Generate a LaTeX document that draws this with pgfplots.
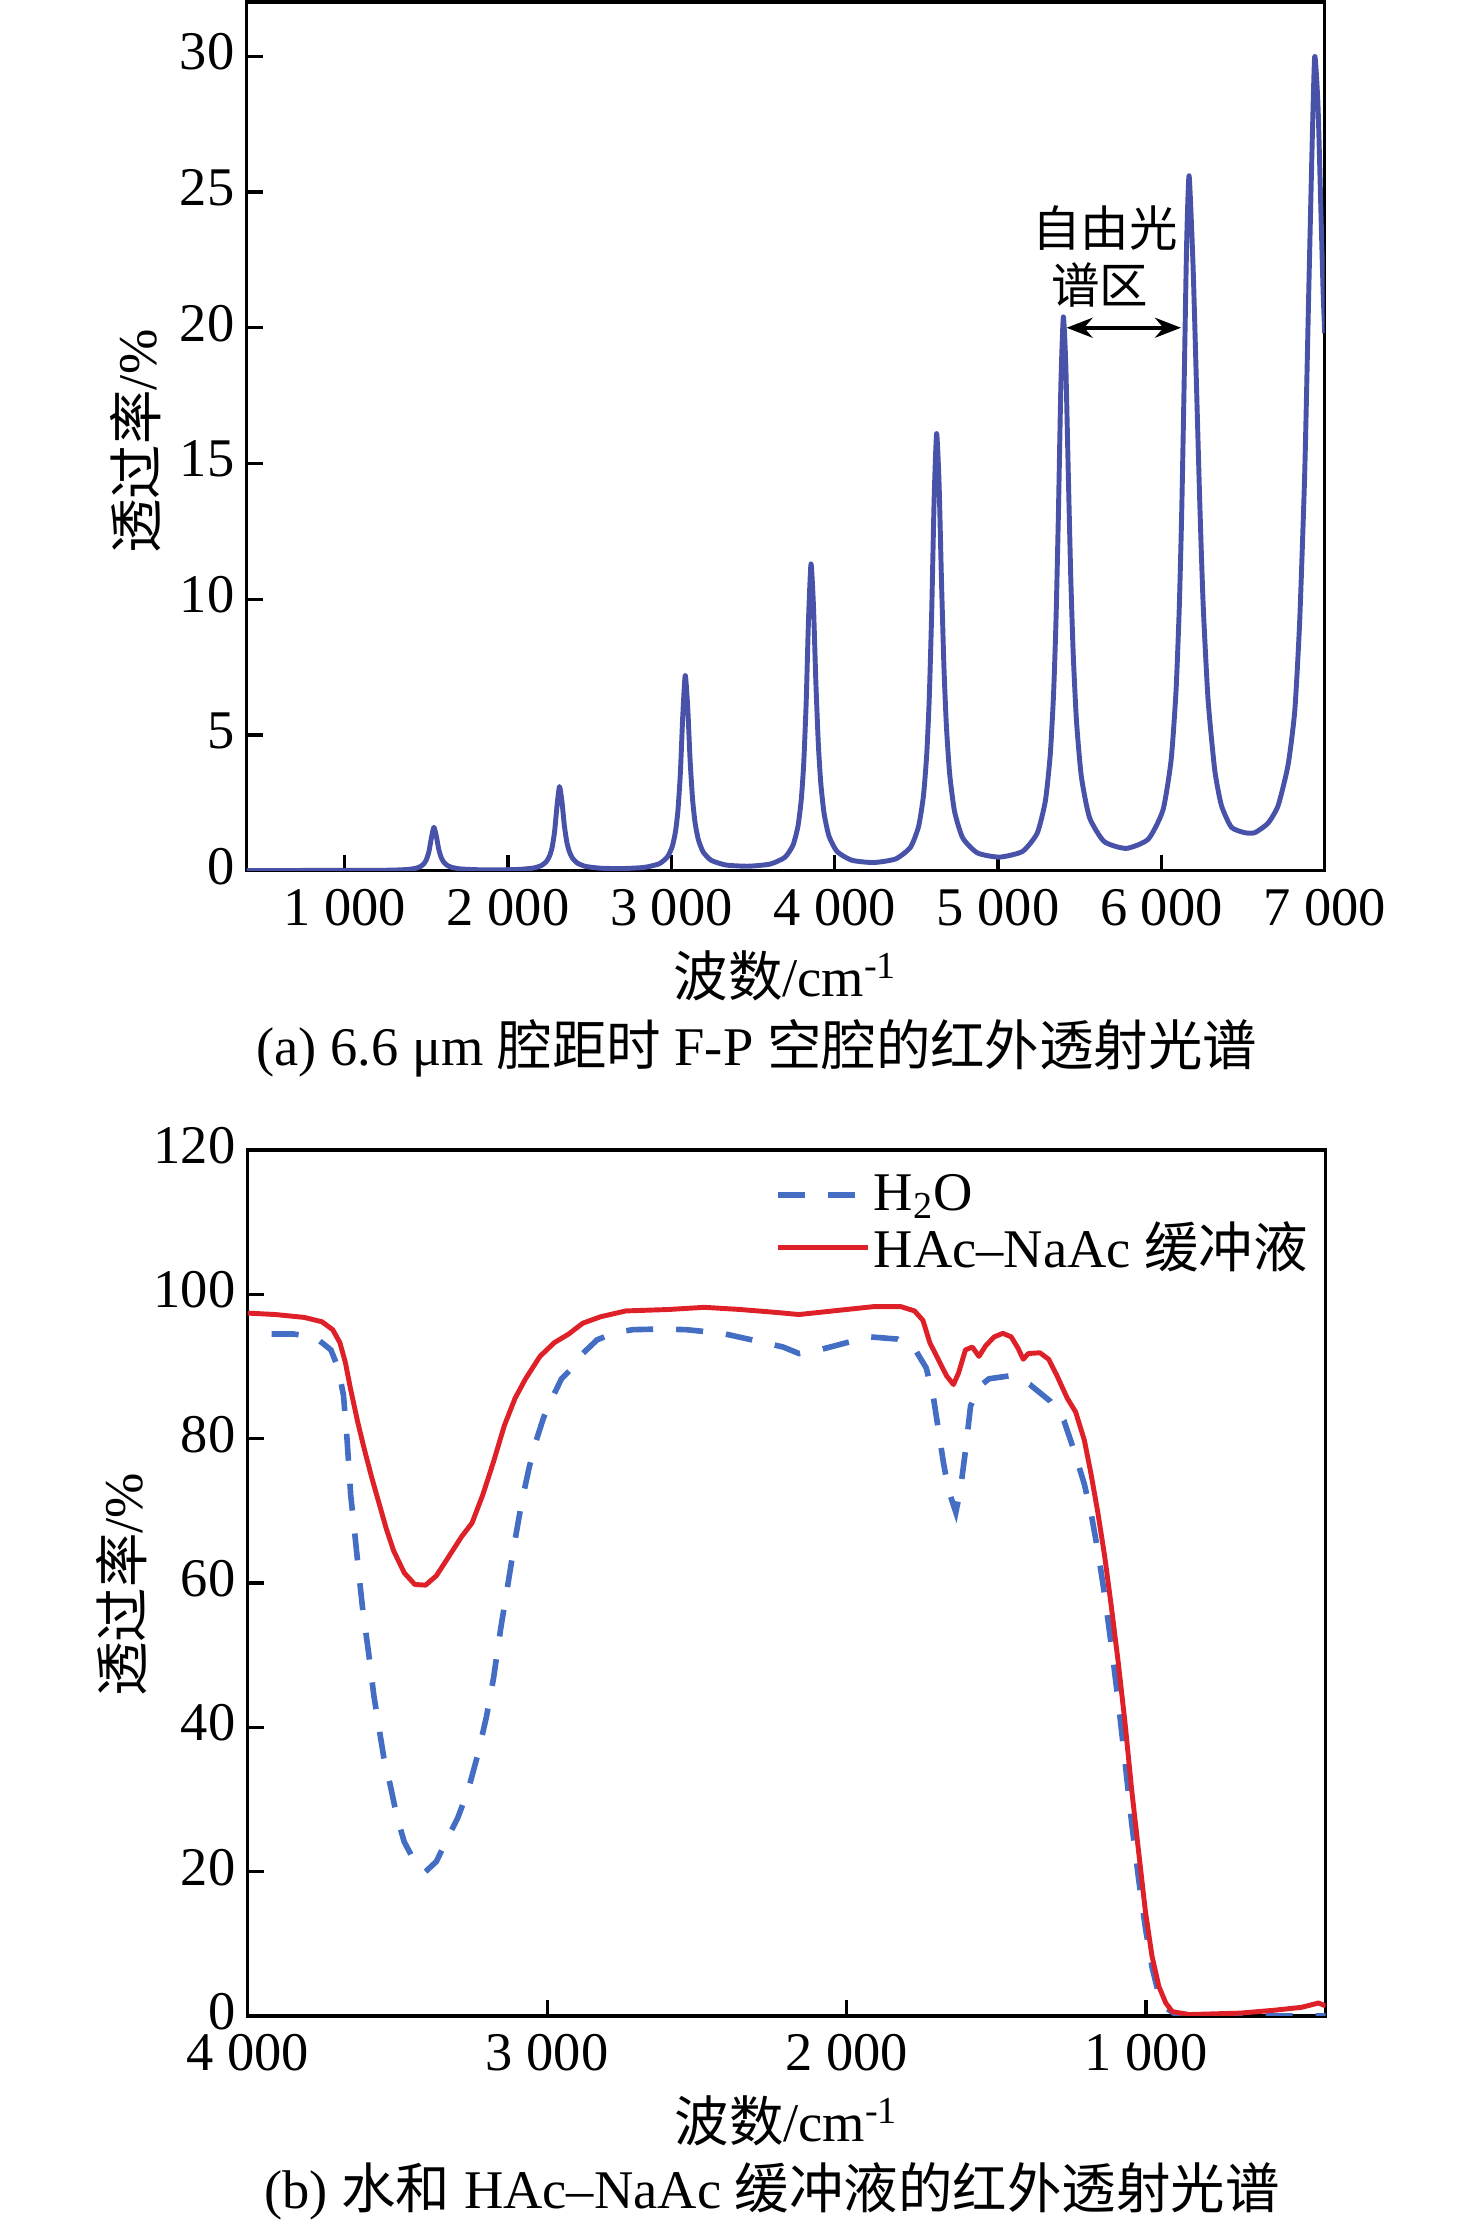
\documentclass[border=0pt]{standalone}
\usepackage{fontspec}
\setmainfont{Liberation Serif}
\newfontfamily\cjk{Noto Sans CJK SC}
\usepackage{pgfplots}
\usepackage{pgfplotstable}
\pgfplotsset{compat=1.18}
\usetikzlibrary{arrows.meta}
\newcommand\fsz{\fontsize{15.5}{18.6}\selectfont}
\definecolor{topblue}{RGB}{72,82,168}
\definecolor{dblue}{RGB}{68,110,196}
\definecolor{dred}{RGB}{222,32,40}

\pgfplotstableread{
x y
400 0.00
800 0.01
1161 0.013
1296 0.021
1386 0.045
1436 0.090
1466 0.161
1486 0.266
1501 0.419
1516 0.710
1531 1.215
1546 1.600
1561 1.272
1576 0.783
1591 0.482
1606 0.318
1626 0.202
1656 0.120
1706 0.067
1796 0.038
1931 0.031
2065 0.047
2155 0.097
2205 0.191
2235 0.338
2255 0.552
2270 0.860
2285 1.436
2300 2.397
2315 3.100
2330 2.557
2345 1.656
2360 1.054
2375 0.710
2395 0.459
2425 0.278
2475 0.158
2565 0.092
2700 0.078
2835 0.122
2925 0.254
2975 0.500
3005 0.882
3025 1.428
3040 2.197
3055 3.575
3070 5.726
3085 7.200
3100 6.036
3115 4.044
3130 2.625
3145 1.777
3165 1.146
3195 0.685
3245 0.378
3335 0.208
3470 0.165
3605 0.244
3695 0.491
3745 0.943
3775 1.634
3795 2.595
3810 3.903
3825 6.121
3840 9.303
3855 11.300
3870 9.760
3885 6.893
3900 4.649
3915 3.219
3935 2.109
3965 1.273
4015 0.703
4105 0.384
4240 0.300
4374 0.435
4464 0.863
4514 1.637
4544 2.788
4564 4.336
4579 6.350
4594 9.549
4609 13.711
4624 16.100
4639 14.286
4654 10.638
4669 7.487
4684 5.326
4704 3.559
4734 2.175
4784 1.205
4874 0.653
5009 0.500
5150 0.710
5240 1.383
5290 2.575
5320 4.292
5340 6.502
5355 9.226
5370 13.230
5385 17.933
5400 20.400
5415 18.619
5430 14.689
5445 10.894
5460 8.042
5480 5.546
5510 3.475
5560 1.959
5650 1.072
5785 0.821
5920 1.161
6010 2.236
6060 4.086
6090 6.637
6110 9.739
6125 13.310
6140 18.107
6155 23.158
6170 25.600
6194 22.3
6215 17.9
6235 13.6
6256 9.8
6286 6.3
6327 3.7
6368 2.4
6429 1.6
6511 1.4
6572 1.4
6653 1.75
6715 2.4
6776 3.9
6817 5.9
6847 9.2
6878 14.7
6902 21.2
6923 26.7
6939 30.0
6959 28.2
6976 24.5
6990 21.4
7000 19.8
}\fpdata

\pgfplotstableread{
x y
3920 94.5
3847 94.5
3776 94.1
3722 92.3
3698 89.8
3680 86.0
3668 79.8
3656 72.2
3644 67.5
3627 60.6
3615 56.0
3597 50.6
3579 44.5
3561 39.8
3543 35.2
3525 32.2
3501 27.5
3477 24.1
3442 21.4
3406 20.0
3370 21.4
3334 24.5
3298 27.5
3263 31.4
3233 36.0
3203 41.4
3179 46.8
3155 53.7
3131 59.8
3107 66.0
3084 71.4
3060 76.0
3036 79.8
3012 82.9
2988 85.2
2952 88.3
2916 89.8
2881 91.8
2833 93.7
2773 94.7
2714 95.1
2618 95.2
2535 95.1
2415 94.6
2296 93.5
2212 92.7
2159 91.8
2091 92.3
2000 93.3
1921 94.1
1830 93.8
1773 92.5
1734 89.8
1711 86.0
1694 81.4
1677 76.8
1660 72.9
1635 69.8
1620 72.9
1603 78.3
1586 84.5
1558 87.2
1524 88.3
1456 88.7
1388 87.5
1320 85.2
1274 82.5
1240 78.3
1206 73.7
1184 69.8
1161 64.5
1138 58.3
1116 51.4
1093 43.7
1070 35.2
1048 26.8
1025 19.1
1002 12.2
980 6.8
957 2.9
929 1.0
900 0.2
850 0.0
400 0.0
}\water

\pgfplotstableread{
x y
4000 97.4
3907 97.2
3811 96.8
3752 96.2
3716 95.1
3692 93.3
3674 90.6
3656 86.8
3632 82.2
3609 78.3
3585 74.5
3561 71.0
3537 67.5
3513 64.5
3477 61.4
3442 59.8
3406 59.7
3370 61.0
3334 63.3
3286 66.4
3251 68.3
3215 72.2
3179 76.8
3143 81.8
3107 85.6
3072 88.3
3024 91.4
2976 93.3
2928 94.5
2881 96.0
2821 96.9
2737 97.7
2594 97.9
2475 98.2
2356 97.9
2237 97.5
2159 97.2
2091 97.5
2000 97.9
1909 98.3
1819 98.3
1773 97.7
1745 96.4
1722 93.3
1694 91.0
1666 88.7
1643 87.5
1626 89.1
1603 92.3
1580 92.7
1558 91.4
1535 92.9
1507 94.1
1478 94.6
1450 94.1
1427 92.5
1410 91.0
1393 91.8
1354 91.9
1325 91.0
1297 88.7
1263 85.6
1235 83.7
1206 79.8
1184 75.2
1161 69.8
1138 63.7
1116 56.8
1093 49.1
1070 40.6
1048 31.4
1025 22.9
1002 14.5
980 8.3
957 4.1
934 1.8
912 0.6
855 0.2
685 0.4
571 0.8
481 1.2
424 1.8
400 1.4
}\buffer

\pgfplotsset{myax/.style={
  scale only axis,
  axis line style={line width=0.9pt},
  every tick/.style={line width=0.9pt, black},
  tick align=inside, tick pos=left,
  major tick length=1.6mm,
  scaled ticks=false,
  /pgf/number format/assume math mode=true,
  /pgf/number format/1000 sep={\ },
  tick label style={font=\fsz},
  xticklabel style={yshift=-0.6mm},
  yticklabel style={yshift=0.45mm},
  label style={font=\fsz},
}}

\begin{document}
\begin{tikzpicture}[font=\fsz]
\path[use as bounding box] (0,0) rectangle (147.6mm,222.7mm);

\begin{axis}[myax, at={(24.67mm,135.63mm)}, anchor=south west,
  width=107.8mm, height=86.87mm,
  xmin=400, xmax=7000, ymin=0, ymax=32,
  xtick={1000,2000,3000,4000,5000,6000,7000},
  ytick={0,5,10,15,20,25,30},
  xlabel={{\cjk 波数}/cm\textsuperscript{-1}},
  ylabel={{\cjk 透过率}/\%},
  xlabel style={at={(axis description cs:0.5,-0.1212)}, anchor=center},
  ylabel style={at={(axis description cs:-0.1027,0.494)}, anchor=center},
]
\addplot[topblue, line width=1.4pt, line join=round, smooth, tension=0.35] table[x=x,y=y] {\fpdata};
\draw[{Stealth[length=2.6mm,width=2mm]}-{Stealth[length=2.6mm,width=2mm]}, line width=1pt] (axis cs:5420,20) -- (axis cs:6120,20);
\node[font=\fontsize{13.8}{16}\selectfont] at (axis cs:5654,23.67) {\cjk 自由光};
\node[font=\fontsize{13.8}{16}\selectfont] at (axis cs:5624,21.56) {\cjk 谱区};
\end{axis}

\begin{axis}[myax, at={(24.77mm,21.1mm)}, anchor=south west,
  width=107.8mm, height=86.6mm,
  x dir=reverse,
  xmin=400, xmax=4000, ymin=0, ymax=120,
  xtick={1000,2000,3000,4000},
  ytick={0,20,40,60,80,100,120},
  xlabel={{\cjk 波数}/cm\textsuperscript{-1}},
  ylabel={{\cjk 透过率}/\%},
  xlabel style={at={(axis description cs:0.5,-0.1213)}, anchor=center},
  ylabel style={at={(axis description cs:-0.1168,0.498)}, anchor=center},
  legend style={draw=none, fill=none, at={(axis description cs:0.4888,0.9757)}, anchor=north west, inner sep=0pt, font=\fsz, nodes={inner sep=0.8pt}},
  legend cell align=left,
  legend image code/.code={\draw[#1] (0mm,0mm) -- (9mm,0mm);},
]
\addplot[dblue, line width=1.6pt, dash pattern=on 2.7mm off 2.3mm] table[x=x,y=y] {\water};
\addlegendentry{H\textsubscript{2}O}
\addplot[dred, line width=1.4pt, line join=round] table[x=x,y=y] {\buffer};
\addlegendentry{HAc–NaAc {\cjk 缓冲液}}
\end{axis}

\node at (75.7mm,117.9mm) {(a) 6.6 μm {\cjk 腔距时} F-P {\cjk 空腔的红外透射光谱}};
\node at (77.2mm,3.6mm) {(b) {\cjk 水和} HAc–NaAc {\cjk 缓冲液的红外透射光谱}};
\end{tikzpicture}
\end{document}
